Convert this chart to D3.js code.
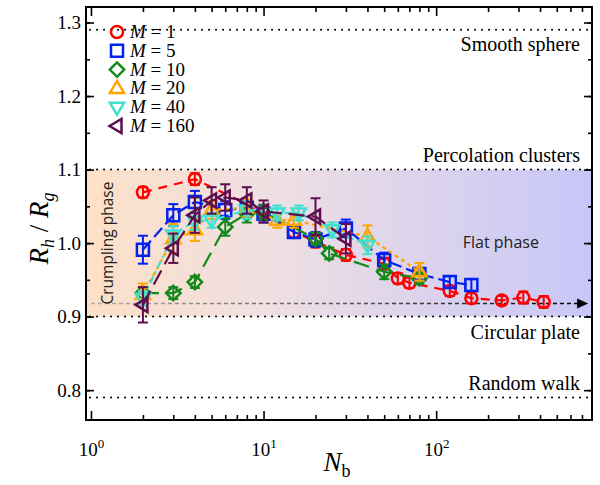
<!DOCTYPE html>
<html>
<head>
<meta charset="utf-8">
<script src="https://cdn.jsdelivr.net/npm/d3@7"></script>
<style>
  body { margin: 0; background: #fff; }
  svg { display: block; }
  svg text { font-family: "Liberation Serif", "Times New Roman", Times, serif; }
  svg text.sans { font-family: "Open Sans", "Noto Sans", sans-serif; }
</style>
</head>
<body>
<div id="chart"></div>
<script>
// data
const series = ["M = 1", "M = 5", "M = 10", "M = 20", "M = 40", "M = 160"];
const mValues = ["1", "5", "10", "20", "40", "160"];

const nM1 = [2, 4, 10, 15, 20, 30, 50, 60, 70, 120, 160, 240, 320, 420];
const vM1 = [1.069, 1.087, 1.042, 1.015, 1.002, 0.984, 0.972, 0.952, 0.946, 0.935, 0.925, 0.922, 0.926, 0.920];
const eM1 = [0.007, 0.008, 0.01, 0.008, 0.008, 0.008, 0.008, 0.007, 0.007, 0.007, 0.007, 0.006, 0.008, 0.008];

const nM5 = [2, 3, 4, 6, 8, 10, 15, 20, 30, 50, 80, 120, 160];
const vM5 = [0.991, 1.038, 1.056, 1.045, 1.048, 1.04, 1.015, 1.005, 1.02, 0.977, 0.958, 0.947, 0.943];
const eM5 = [0.019, 0.015, 0.015, 0.012, 0.012, 0.012, 0.008, 0.01, 0.012, 0.01, 0.008, 0.008, 0.008];

const nM10 = [2, 3, 4, 6, 8, 10, 20, 24, 50, 80];
const vM10 = [0.932, 0.932, 0.947, 1.022, 1.040, 1.042, 1.006, 0.986, 0.961, 0.952];
const eM10 = [0.008, 0.008, 0.008, 0.012, 0.012, 0.01, 0.008, 0.008, 0.01, 0.008];

const nM20 = [2, 3, 4, 5, 8, 12, 15, 40, 80];
const vM20 = [0.93, 1.006, 1.018, 1.045, 1.048, 1.031, 1.031, 1.009, 0.961];
const eM20 = [0.015, 0.02, 0.015, 0.012, 0.012, 0.01, 0.01, 0.015, 0.012];

const nM40 = [2, 3, 4, 5, 8, 12, 16, 25, 40];
const vM40 = [0.925, 1.011, 1.03, 1.031, 1.045, 1.041, 1.041, 1.018, 0.997];
const eM40 = [0.01, 0.012, 0.012, 0.01, 0.012, 0.01, 0.01, 0.01, 0.012];

const nM160 = [2, 3, 4, 5, 6, 8, 10, 20, 30];
const vM160 = [0.916, 0.993, 1.038, 1.058, 1.062, 1.058, 1.043, 1.036, 1.006];
const eM160 = [0.024, 0.02, 0.024, 0.018, 0.018, 0.018, 0.015, 0.025, 0.02];

// reference lines
const refValues = [1.29, 1.1, 0.9, 0.79];
const refLabels = ["Smooth sphere", "Percolation clusters", "Circular plate", "Random walk"];
const yTicks = [0.8, 0.9, 1.0, 1.1, 1.2, 1.3];
const xTicks = [1, 10, 100];
const arrowValue = 0.918;

const svgWidth = 600;
const svgHeight = 485;
const margin = { top: 7, right: 8, bottom: 65, left: 86 };
const width = svgWidth - margin.left - margin.right;
const height = svgHeight - margin.top - margin.bottom;

const colors = ["#ff0000", "#0022ee", "#12891a", "#ffa500", "#40e0d0", "#5e0d4f"];
const dashes = ["9,7", "12,5", "16,8", "1.5,6", "7,4,2,4", "16,7"];
const shapes = ["circle", "square", "diamond", "up", "down", "left"];

const allSeries = [
  { n: nM1, v: vM1, e: eM1 },
  { n: nM5, v: vM5, e: eM5 },
  { n: nM10, v: vM10, e: eM10 },
  { n: nM20, v: vM20, e: eM20 },
  { n: nM40, v: vM40, e: eM40 },
  { n: nM160, v: vM160, e: eM160 }
].map((s, i) => ({
  idx: i,
  points: s.n.map((n, j) => ({ n: n, v: s.v[j], e: s.e[j] }))
}));

const svg = d3.select("#chart")
  .append("svg")
  .attr("width", svgWidth)
  .attr("height", svgHeight);

const chartGroup = svg.append("g")
  .attr("transform", `translate(${margin.left}, ${margin.top})`);

const x = d3.scaleLog().domain([0.936, 800]).range([0, width]);
const y = d3.scaleLinear().domain([0.7594, 1.3211]).range([height, 0]);

// gradients for the phase band and the arrow
const defs = svg.append("defs");
const bandGrad = defs.append("linearGradient").attr("id", "band");
bandGrad.append("stop").attr("offset", "0%").attr("stop-color", "#fde0c6");
bandGrad.append("stop").attr("offset", "35%").attr("stop-color", "#f0e0e2");
bandGrad.append("stop").attr("offset", "100%").attr("stop-color", "#c7c6f7");

const arrowGrad = defs.append("linearGradient").attr("id", "arrowGrad")
  .attr("gradientUnits", "userSpaceOnUse")
  .attr("x1", 0).attr("x2", width);
arrowGrad.append("stop").attr("offset", "0%").attr("stop-color", "#b0b0b0");
arrowGrad.append("stop").attr("offset", "100%").attr("stop-color", "#000");

defs.append("clipPath").attr("id", "clip")
  .append("rect").attr("width", width).attr("height", height);

chartGroup.append("rect")
  .attr("x", 0)
  .attr("y", y(1.1))
  .attr("width", width)
  .attr("height", y(0.9) - y(1.1))
  .attr("fill", "url(#band)");

// dotted reference lines
chartGroup.selectAll("line.ref")
  .data(refValues)
  .enter()
  .append("line")
  .attr("class", "ref")
  .attr("x1", 4)
  .attr("x2", width - 2)
  .attr("y1", d => y(d))
  .attr("y2", d => y(d))
  .attr("stroke", "#000")
  .attr("stroke-width", 2)
  .attr("stroke-linecap", "round")
  .attr("stroke-dasharray", "0.1,6.9");

const labelDy = [21, -8, 22, -8];
chartGroup.selectAll("text.ref")
  .data(refLabels)
  .enter()
  .append("text")
  .attr("class", "ref")
  .attr("x", width - 12)
  .attr("y", (d, i) => y(refValues[i]) + labelDy[i])
  .attr("text-anchor", "end")
  .attr("font-size", "20px")
  .text(d => d);

// dashed arrow towards the flat limit
const arrowEnd = x(760);
chartGroup.append("line")
  .attr("x1", x(1))
  .attr("x2", arrowEnd - 8)
  .attr("y1", y(arrowValue))
  .attr("y2", y(arrowValue))
  .attr("stroke", "url(#arrowGrad)")
  .attr("stroke-width", 1.5)
  .attr("stroke-dasharray", "4,3");
chartGroup.append("path")
  .attr("d", `M${arrowEnd},${y(arrowValue)} l-11,-5 l0,10 z`)
  .attr("fill", "#000");

// phase labels
chartGroup.append("text")
  .attr("class", "sans")
  .attr("transform", `translate(${x(1.25)}, ${y(1.0)}) rotate(-90)`)
  .attr("text-anchor", "middle")
  .attr("dy", "0.35em")
  .attr("font-size", "15.5px")
  .attr("fill", "#222")
  .text("Crumpling phase");

chartGroup.append("text")
  .attr("class", "sans")
  .attr("x", x(237))
  .attr("y", y(1.0) + 5)
  .attr("text-anchor", "middle")
  .attr("font-size", "16px")
  .attr("fill", "#222")
  .text("Flat phase");

// marker symbols
function markerPath(shape, s) {
  if (shape === "circle") return d3.symbol(d3.symbolCircle, Math.PI * s * s)();
  if (shape === "square") return `M${-s},${-s}H${s}V${s}H${-s}Z`;
  if (shape === "diamond") { const d = s * 1.2; return `M0,${-d}L${d},0L0,${d}L${-d},0Z`; }
  const t = s * 1.25;
  if (shape === "up") return `M0,${-t}L${t * 0.95},${t * 0.6}L${-t * 0.95},${t * 0.6}Z`;
  if (shape === "down") return `M0,${t}L${t * 0.95},${-t * 0.6}L${-t * 0.95},${-t * 0.6}Z`;
  return `M${-t},0L${t * 0.6},${-t * 0.95}L${t * 0.6},${t * 0.95}Z`;
}

const plotArea = chartGroup.append("g").attr("clip-path", "url(#clip)");

const line = d3.line()
  .x(d => x(d.n))
  .y(d => y(d.v));

allSeries.forEach(s => {
  const g = plotArea.append("g");
  const c = colors[s.idx];

  g.append("path")
    .datum(s.points)
    .attr("d", line)
    .attr("fill", "none")
    .attr("stroke", c)
    .attr("stroke-width", s.idx === 3 ? 2.5 : 2.2)
    .attr("stroke-linecap", s.idx === 3 ? "round" : "butt")
    .attr("stroke-dasharray", dashes[s.idx]);

  // error bars with caps
  const bars = g.selectAll("g.err")
    .data(s.points)
    .enter()
    .append("g")
    .attr("stroke", c)
    .attr("stroke-width", 2);
  bars.append("line")
    .attr("x1", d => x(d.n)).attr("x2", d => x(d.n))
    .attr("y1", d => y(d.v - d.e)).attr("y2", d => y(d.v + d.e));
  bars.append("line")
    .attr("x1", d => x(d.n) - 5).attr("x2", d => x(d.n) + 5)
    .attr("y1", d => y(d.v - d.e)).attr("y2", d => y(d.v - d.e));
  bars.append("line")
    .attr("x1", d => x(d.n) - 5).attr("x2", d => x(d.n) + 5)
    .attr("y1", d => y(d.v + d.e)).attr("y2", d => y(d.v + d.e));

  g.selectAll("path.mk")
    .data(s.points)
    .enter()
    .append("path")
    .attr("class", "mk")
    .attr("transform", d => `translate(${x(d.n)}, ${y(d.v)})`)
    .attr("d", markerPath(shapes[s.idx], 6))
    .attr("fill", "none")
    .attr("stroke", c)
    .attr("stroke-width", 2.5);
});

// axes: ticks point inward on all four sides
const xMinor = [];
[1, 10, 100].forEach(dec => {
  for (let k = 2; k <= 9; k++) if (dec * k < 800) xMinor.push(dec * k);
});
const yMinor = [0.8, 0.85, 0.9, 0.95, 1.0, 1.05, 1.1, 1.15, 1.2, 1.25, 1.3];

function styleAxis(g) {
  g.select(".domain").remove();
  g.selectAll("line").attr("stroke", "#000").attr("stroke-width", 1.6);
}

chartGroup.append("g")
  .attr("transform", `translate(0, ${height})`)
  .call(d3.axisBottom(x).tickValues(xMinor).tickSize(-5).tickFormat(""))
  .call(styleAxis);
const xAxis = chartGroup.append("g")
  .attr("transform", `translate(0, ${height})`)
  .call(d3.axisBottom(x).tickValues(xTicks).tickSize(-9).tickPadding(14).tickFormat(""))
  .call(styleAxis);
xAxis.selectAll(".tick").append("text")
  .attr("y", 36)
  .attr("text-anchor", "middle")
  .attr("fill", "#000")
  .attr("font-size", "19px")
  .each(function(d) {
    const t = d3.select(this);
    t.append("tspan").text("10");
    t.append("tspan").attr("dy", -8).attr("font-size", "13px").text(Math.round(Math.log10(d)));
  });

chartGroup.append("g")
  .call(d3.axisTop(x).tickValues(xMinor).tickSize(-5).tickFormat(""))
  .call(styleAxis);
chartGroup.append("g")
  .call(d3.axisTop(x).tickValues(xTicks).tickSize(-9).tickFormat(""))
  .call(styleAxis);

chartGroup.append("g")
  .call(d3.axisLeft(y).tickValues(yMinor).tickSize(-4).tickFormat(""))
  .call(styleAxis);
const yAxis = chartGroup.append("g")
  .call(d3.axisLeft(y).tickValues(yTicks).tickSize(-8).tickPadding(4).tickFormat(d3.format(".1f")))
  .call(styleAxis);
yAxis.selectAll("text")
  .attr("x", -5)
  .attr("font-size", "19px")
  .attr("fill", "#000");

chartGroup.append("g")
  .attr("transform", `translate(${width}, 0)`)
  .call(d3.axisRight(y).tickValues(yMinor).tickSize(-4).tickFormat(""))
  .call(styleAxis);
chartGroup.append("g")
  .attr("transform", `translate(${width}, 0)`)
  .call(d3.axisRight(y).tickValues(yTicks).tickSize(-8).tickFormat(""))
  .call(styleAxis);

// frame
chartGroup.append("rect")
  .attr("width", width)
  .attr("height", height)
  .attr("fill", "none")
  .attr("stroke", "#000")
  .attr("stroke-width", 2);

// legend
const legend = chartGroup.append("g")
  .attr("transform", "translate(31, 25)");
series.forEach((name, i) => {
  const row = legend.append("g").attr("transform", `translate(0, ${i * 18.8})`);
  row.append("path")
    .attr("d", markerPath(shapes[i], 6))
    .attr("fill", "none")
    .attr("stroke", colors[i])
    .attr("stroke-width", 2.5);
  const t = row.append("text")
    .attr("x", 13)
    .attr("y", 6)
    .attr("font-size", "19px");
  t.append("tspan").attr("font-style", "italic").text("M");
  t.append("tspan").text(" = " + mValues[i]);
});

// axis titles
const yTitle = svg.append("text")
  .attr("transform", `translate(48, ${margin.top + y(1.02)}) rotate(-90)`)
  .attr("text-anchor", "middle")
  .attr("font-size", "27px");
yTitle.append("tspan").attr("font-style", "italic").text("R");
yTitle.append("tspan").attr("font-style", "italic").attr("font-size", "18px").attr("dy", 6).text("h");
yTitle.append("tspan").attr("dy", -6).text(" / ");
yTitle.append("tspan").attr("font-style", "italic").text("R");
yTitle.append("tspan").attr("font-style", "italic").attr("font-size", "18px").attr("dy", 6).text("g");

const xTitle = svg.append("text")
  .attr("x", 337)
  .attr("y", 471)
  .attr("text-anchor", "middle")
  .attr("font-size", "27px");
xTitle.append("tspan").attr("font-style", "italic").text("N");
xTitle.append("tspan").attr("font-size", "18px").attr("dy", 6).text("b");
</script>
</body>
</html>
